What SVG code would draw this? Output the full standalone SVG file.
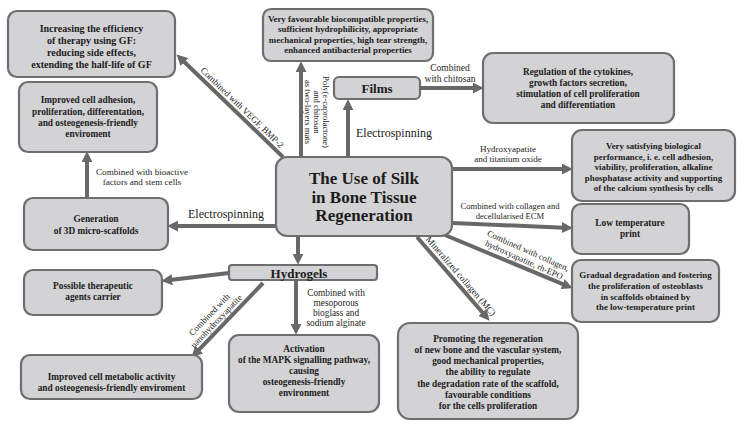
<svg xmlns="http://www.w3.org/2000/svg" width="742" height="427" viewBox="0 0 742 427">
<style>
.box{fill:#d3d2d5;stroke:#6e6e6e;stroke-width:2.2}
.t{font-family:"Liberation Serif","Times New Roman",serif;font-weight:bold;fill:#1c1c1c;text-anchor:middle}
.s10{font-size:10px}
.s9{font-size:9.3px}
.lbl{font-family:"Liberation Serif","Times New Roman",serif;fill:#1c1c1c;text-anchor:middle;font-size:9px}
.big{font-size:12px}
.c line{stroke:#686868;stroke-width:4;marker-end:url(#ah)}
</style>
<defs>
<marker id="ah" viewBox="0 0 10 10" markerUnits="userSpaceOnUse" markerWidth="11" markerHeight="11" refX="2" refY="5" orient="auto">
<path d="M0,0 L10,5 L0,10 z" fill="#686868"/>
</marker>
</defs>
<rect width="742" height="427" fill="#ffffff"/>
<g id="connectors" class="c">
<line x1="283" y1="157" x2="182.8" y2="60.5"/>
<line x1="301" y1="157" x2="301" y2="70"/>
<line x1="348" y1="157" x2="348" y2="108"/>
<line x1="420" y1="88" x2="475" y2="88"/>
<line x1="452" y1="169" x2="564" y2="169"/>
<line x1="452" y1="223" x2="564" y2="227.7"/>
<line x1="445" y1="235" x2="564.6" y2="284.9"/>
<line x1="417" y1="237" x2="483.8" y2="314"/>
<line x1="276" y1="226" x2="176" y2="226"/>
<line x1="87" y1="198" x2="87" y2="160"/>
<line x1="298" y1="236" x2="298" y2="256"/>
<line x1="229" y1="273" x2="170" y2="280"/>
<line x1="263" y1="283" x2="197.6" y2="351.2"/>
<line x1="296" y1="280" x2="296" y2="326"/>
</g>
<g id="connector-labels">
<text class="lbl" transform="translate(237,113) rotate(44)" y="-4.5">Combined with VEGF, BMP-2</text>
<g class="lbl" transform="translate(314,112) rotate(90)" style="font-size:8.6px">
<text x="0" y="-9">Poly(ε-caprolactone)</text>
<text x="0" y="0">and chitosan</text>
<text x="0" y="9.5">as two-layers mats</text>
</g>
<text class="lbl big" x="394" y="137">Electrospinning</text>
<text class="lbl" x="450" y="71" style="font-size:9.5px">Combined</text>
<text class="lbl" x="450" y="82" style="font-size:9.5px">with chitosan</text>
<text class="lbl" x="508" y="152">Hydroxyapatite</text>
<text class="lbl" x="508" y="162">and titanium oxide</text>
<text class="lbl" x="510" y="209" style="font-size:8.6px">Combined with collagen and</text>
<text class="lbl" x="510" y="219" style="font-size:8.6px">decellularised ECM</text>
<g class="lbl" transform="translate(521,266.7) rotate(24)" style="font-size:8.8px">
<text x="0" y="-14.5">Combined with collagen,</text>
<text x="0" y="-4.5">hydroxyapatite, rh-EPO</text>
</g>
<text class="lbl" transform="translate(455.2,281) rotate(49.1)" y="-4.5" style="font-size:9.3px">Mineralized collagen (MC)</text>
<text class="lbl big" x="226" y="218">Electrospinning</text>
<text class="lbl" x="142" y="175" style="font-size:9.1px">Combined with bioactive</text>
<text class="lbl" x="142" y="185" style="font-size:9.1px">factors and stem cells</text>
<g class="lbl" transform="translate(221.5,326.3) rotate(-46)" style="font-size:8.8px">
<text x="0" y="-14">Combined with</text>
<text x="0" y="-4.3">nanohydroxyapatite</text>
</g>
<g class="lbl" style="font-size:9.3px">
<text x="336" y="296">Combined with</text>
<text x="336" y="306">mesoporous</text>
<text x="336" y="316">bioglass and</text>
<text x="336" y="326">sodium alginate</text>
</g>
</g>
<g id="node-center">
<rect class="box" x="276" y="157" width="176" height="79" rx="11"/>
<text class="t" x="364" y="184" style="font-size:17px">The Use of Silk</text>
<text class="t" x="364" y="203" style="font-size:17px">in Bone Tissue</text>
<text class="t" x="364" y="221" style="font-size:17px">Regeneration</text>
</g>
<g id="node-gf">
<rect class="box" x="8" y="11" width="167" height="66" rx="9"/>
<text class="t s10" x="91.5" y="32">Increasing the efficiency</text>
<text class="t s10" x="91.5" y="44">of therapy using GF:</text>
<text class="t s10" x="91.5" y="56">reducing side effects,</text>
<text class="t s10" x="91.5" y="68">extending the half-life of GF</text>
</g>
<g id="node-adhesion">
<rect class="box" x="19" y="82" width="138" height="70" rx="9"/>
<text class="t s9" x="88" y="103">Improved cell adhesion,</text>
<text class="t s9" x="88" y="115">proliferation, differentation,</text>
<text class="t s9" x="88" y="126">and osteogenesis-friendly</text>
<text class="t s9" x="88" y="137">enviroment</text>
</g>
<g id="node-favourable">
<rect class="box" x="263" y="9" width="170" height="52" rx="8"/>
<text class="t" x="348" y="21.5" style="font-size:8.9px">Very favourable biocompatible properties,</text>
<text class="t" x="348" y="32" style="font-size:8.9px">sufficient hydrophilicity, appropriate</text>
<text class="t" x="348" y="42.5" style="font-size:8.9px">mechanical properties, high tear strength,</text>
<text class="t" x="348" y="53" style="font-size:8.9px">enhanced antibacterial properties</text>
</g>
<g id="node-films">
<rect class="box" x="334" y="77" width="86" height="22" rx="5"/>
<text class="t" x="377" y="92.5" style="font-size:13px">Films</text>
</g>
<g id="node-regulation">
<rect class="box" x="483" y="53" width="191" height="70" rx="10"/>
<text class="t s9" x="578" y="75">Regulation of the cytokines,</text>
<text class="t s9" x="578" y="86">growth factors secretion,</text>
<text class="t s9" x="578" y="97">stimulation of cell proliferation</text>
<text class="t s9" x="578" y="108">and differentiation</text>
</g>
<g id="node-satisfying">
<rect class="box" x="572" y="130" width="163" height="71" rx="10"/>
<text class="t" x="653.5" y="149" style="font-size:8.9px">Very satisfying biological</text>
<text class="t" x="653.5" y="159.5" style="font-size:8.9px">performance, i. e. cell adhesion,</text>
<text class="t" x="653.5" y="170" style="font-size:8.9px">viability, proliferation, alkaline</text>
<text class="t" x="653.5" y="180.5" style="font-size:8.9px">phosphatase activity and supporting</text>
<text class="t" x="653.5" y="191" style="font-size:8.9px">of the calcium synthesis by cells</text>
</g>
<g id="node-lowtemp">
<rect class="box" x="572" y="204" width="117" height="50" rx="9"/>
<text class="t s9" x="630" y="226">Low temperature</text>
<text class="t s9" x="630" y="237">print</text>
</g>
<g id="node-gradual">
<rect class="box" x="572" y="260" width="147" height="62" rx="9"/>
<text class="t" x="645.5" y="278" style="font-size:8.9px">Gradual degradation and fostering</text>
<text class="t" x="645.5" y="289" style="font-size:8.9px">the proliferation of osteoblasts</text>
<text class="t" x="645.5" y="299.5" style="font-size:8.9px">in scaffolds obtained by</text>
<text class="t" x="645.5" y="310" style="font-size:8.9px">the low-temperature print</text>
</g>
<g id="node-generation">
<rect class="box" x="24" y="198" width="144" height="52" rx="9"/>
<text class="t s9" x="96" y="222">Generation</text>
<text class="t s9" x="96" y="234">of 3D micro-scaffolds</text>
</g>
<g id="node-hydrogels">
<rect class="box" x="229" y="265" width="148" height="15" rx="3"/>
<text class="t" x="299" y="277.5" style="font-size:13px">Hydrogels</text>
</g>
<g id="node-carrier">
<rect class="box" x="24" y="270" width="138" height="45" rx="9"/>
<text class="t s9" x="93" y="289">Possible therapeutic</text>
<text class="t s9" x="93" y="300">agents carrier</text>
</g>
<g id="node-metabolic">
<rect class="box" x="21" y="355" width="181" height="44" rx="9"/>
<text class="t s9" x="111.5" y="380">Improved cell metabolic activity</text>
<text class="t s9" x="111.5" y="391">and osteogenesis-friendly enviroment</text>
</g>
<g id="node-mapk">
<rect class="box" x="229" y="335" width="150" height="77" rx="10"/>
<text class="t s9" x="304" y="352">Activation</text>
<text class="t s9" x="304" y="363">of the MAPK signalling pathway,</text>
<text class="t s9" x="304" y="373.5">causing</text>
<text class="t s9" x="304" y="385">osteogenesis-friendly</text>
<text class="t s9" x="304" y="396">environment</text>
</g>
<g id="node-promoting">
<rect class="box" x="398" y="323" width="180" height="96" rx="12"/>
<text class="t s9" x="488" y="342">Promoting the regeneration</text>
<text class="t s9" x="488" y="353">of new bone and the vascular system,</text>
<text class="t s9" x="488" y="364">good mechanical properties,</text>
<text class="t s9" x="488" y="375">the ability to regulate</text>
<text class="t s9" x="488" y="386.5">the degradation rate of the scaffold,</text>
<text class="t s9" x="488" y="397.5">favourable conditions</text>
<text class="t s9" x="488" y="409">for the cells proliferation</text>
</g>
</svg>
